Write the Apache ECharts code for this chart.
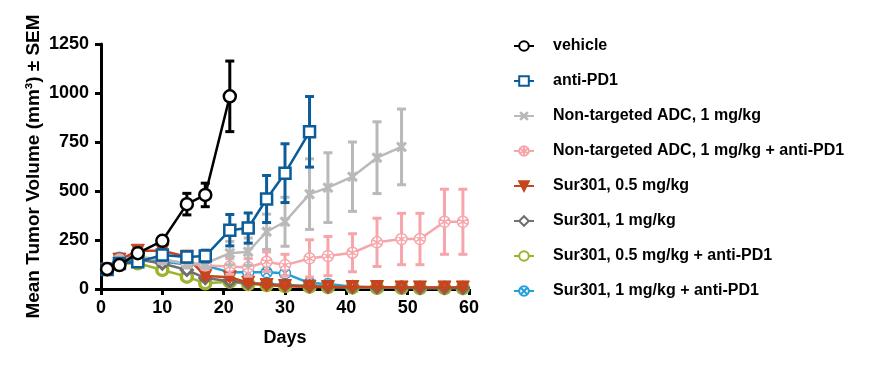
<!DOCTYPE html>
<html>
<head>
<meta charset="utf-8">
<script src="https://cdn.jsdelivr.net/npm/echarts@6/dist/echarts.min.js"></script>
<style>html,body{margin:0;padding:0;background:#fff}#c{width:885px;height:368px}</style>
</head>
<body>
<div id="c"></div>
<script>
const days = [1,3,6,10,14,17,21,24,27,30,34,37,41,45,49,52,56,59];
const xTicks = [0,10,20,30,40,50,60];
const yTicks = [0,250,500,750,1000,1250];
const names = ['vehicle','anti-PD1','Non-targeted ADC, 1 mg/kg','Non-targeted ADC, 1 mg/kg + anti-PD1','Sur301, 0.5 mg/kg','Sur301, 1 mg/kg','Sur301, 0.5 mg/kg + anti-PD1','Sur301, 1 mg/kg + anti-PD1'];

const vehicleMean = [102,122,183,246,433,480,983];
const vehicleSem  = [10,12,20,15,55,60,180];
const pd1Mean = [100,130,139,173,163,168,300,311,459,591,802];
const pd1Sem  = [10,15,20,25,25,30,80,77,120,150,180];
const ntMean = [100,150,165,150,130,130,183,190,292,343,484,517,573,670,725];
const ntSem  = [10,15,20,20,20,25,60,70,90,125,180,178,177,183,193];
const ntPd1Mean = [100,150,160,150,130,120,115,110,139,122,156,168,185,238,255,255,343,343];
const ntPd1Sem  = [10,15,20,20,20,20,40,45,50,55,95,100,97,123,131,131,166,166];
const s05Mean = [100,150,195,195,165,66,60,32,20,15,12,10,10,10,8,8,8,8];
const s05Sem  = [10,15,20,20,20,15,15,10,8,6,5,4,4,3,3,3,3,3];
const s1Mean = [100,140,150,130,97,56,40,30,25,20,15,12,10,8,8,6,6,6];
const s1Sem  = [10,12,15,15,12,10,8,6,5,5,4,3,3,3,3,2,2,2];
const s05PdMean = [100,130,131,97,63,29,37,25,20,15,12,10,8,6,6,5,5,5];
const s05PdSem  = [10,12,15,12,10,8,8,6,5,5,4,3,3,3,3,2,2,2];
const s1PdMean = [100,160,165,140,125,120,85,85,85,80,30,25,12,8,6,5,5,5];
const s1PdSem  = [10,15,15,15,15,15,15,15,15,12,8,6,4,3,3,2,2,2];

const means = [vehicleMean,pd1Mean,ntMean,ntPd1Mean,s05Mean,s1Mean,s05PdMean,s1PdMean];
const sems = [vehicleSem,pd1Sem,ntSem,ntPd1Sem,s05Sem,s1Sem,s05PdSem,s1PdSem];
const colors = ['#000000','#0b5c99','#b9b9b9','#f6a6aa','#c6441e','#6f6f6f','#9fb32a','#22a0d8'];

const crossPath = 'path://M0,2 L2,0 L5,3 L8,0 L10,2 L7,5 L10,8 L8,10 L5,7 L2,10 L0,8 L3,5 Z';
const asterCircle = 'path://M10,5 A5,5 0 1,1 0,5 A5,5 0 1,1 10,5 Z M5,0.3 L5,9.7 M0.9,2.6 L9.1,7.4 M0.9,7.4 L9.1,2.6';
const xCircle = 'path://M10,5 A5,5 0 1,1 0,5 A5,5 0 1,1 10,5 Z M1.6,1.6 L8.4,8.4 M1.6,8.4 L8.4,1.6';
const triHole = 'path://M0,0 L10,0 L5,9 Z M4,2.2 L5,4.2 L6,2.2 Z';

const symbols = [
  {symbol:'circle', size:12, fill:'#fff', bw:2.5},
  {symbol:'rect', size:11, fill:'#fff', bw:2.5},
  {symbol:crossPath, size:11, fill:colors[2], bw:0},
  {symbol:asterCircle, size:11, fill:'#fff', bw:1.5},
  {symbol:triHole, size:13, fill:colors[4], bw:1},
  {symbol:'diamond', size:11, fill:'#fff', bw:3},
  {symbol:'circle', size:11, fill:'#fff', bw:3.5},
  {symbol:xCircle, size:11, fill:'#fff', bw:1.5}
];

const FONT = 'Liberation Sans, Arial, sans-serif';
const series = [];
names.forEach((n, i) => {
  const m = means[i], s = sems[i];
  const z = 10 + (names.length - i) * 2;
  const errData = m.map((v, k) => [days[k], Math.max(0, v - s[k]), v + s[k]]);
  series.push({
    name: 'err-' + i, type: 'custom', z: z - 1, silent: true, clip: false,
    data: errData,
    renderItem: (params, api) => {
      const x = api.value(0);
      const lo = api.coord([x, api.value(1)]);
      const hi = api.coord([x, api.value(2)]);
      const w = 4.5;
      const st = {stroke: colors[i], lineWidth: 3, fill: 'none'};
      return {type: 'group', children: [
        {type: 'line', shape: {x1: lo[0], y1: lo[1], x2: hi[0], y2: hi[1]}, style: st},
        {type: 'line', shape: {x1: hi[0]-w, y1: hi[1], x2: hi[0]+w, y2: hi[1]}, style: st},
        {type: 'line', shape: {x1: lo[0]-w, y1: lo[1], x2: lo[0]+w, y2: lo[1]}, style: st}
      ]};
    }
  });
  const sy = symbols[i];
  series.push({
    name: n, type: 'line', z: z,
    data: m.map((v, k) => [days[k], v]),
    symbol: sy.symbol, symbolSize: sy.size, symbolRotate: sy.rotate || 0,
    showAllSymbol: true,
    lineStyle: {color: colors[i], width: 2.5},
    itemStyle: {color: sy.fill, borderColor: colors[i], borderWidth: sy.bw},
    emphasis: {disabled: true}
  });
});

const chart = echarts.init(document.getElementById('c'), null, {renderer: 'canvas'});
chart.setOption({
  animation: false,
  backgroundColor: '#fff',
  grid: {left: 101, right: 416, top: 44, bottom: 79, containLabel: false},
  xAxis: {
    type: 'value', min: xTicks[0], max: xTicks[xTicks.length-1], interval: 10,
    name: 'Days', nameLocation: 'middle', nameGap: 40,
    nameTextStyle: {fontFamily: FONT, fontWeight: 'bold', fontSize: 18, color: '#000'},
    axisLine: {show: true, onZero: false, lineStyle: {color: '#000', width: 3}},
    axisTick: {show: true, length: 6, lineStyle: {color: '#000', width: 3}},
    axisLabel: {fontFamily: FONT, fontWeight: 'bold', fontSize: 18, color: '#000', margin: 10},
    splitLine: {show: false}
  },
  yAxis: {
    type: 'value', min: yTicks[0], max: yTicks[yTicks.length-1], interval: 250,
    name: 'Mean Tumor Volume (mm³) ± SEM', nameLocation: 'middle', nameGap: 58,
    nameTextStyle: {fontFamily: FONT, fontWeight: 'bold', fontSize: 19, color: '#000'},
    axisLine: {show: true, lineStyle: {color: '#000', width: 3}},
    axisTick: {show: true, length: 6, lineStyle: {color: '#000', width: 3}},
    axisLabel: {fontFamily: FONT, fontWeight: 'bold', fontSize: 18, color: '#000', margin: 12, formatter: v => String(v)},
    splitLine: {show: false}
  },
  legend: {
    data: names, orient: 'vertical', left: 513, top: 38, padding: 0,
    itemWidth: 20, itemHeight: 12, itemGap: 19,
    textStyle: {fontFamily: FONT, fontWeight: 'bold', fontSize: 16, color: '#000', lineHeight: 16, padding: [0,0,0,14]},
    selectedMode: false
  },
  series: series
});
</script>
</body>
</html>
